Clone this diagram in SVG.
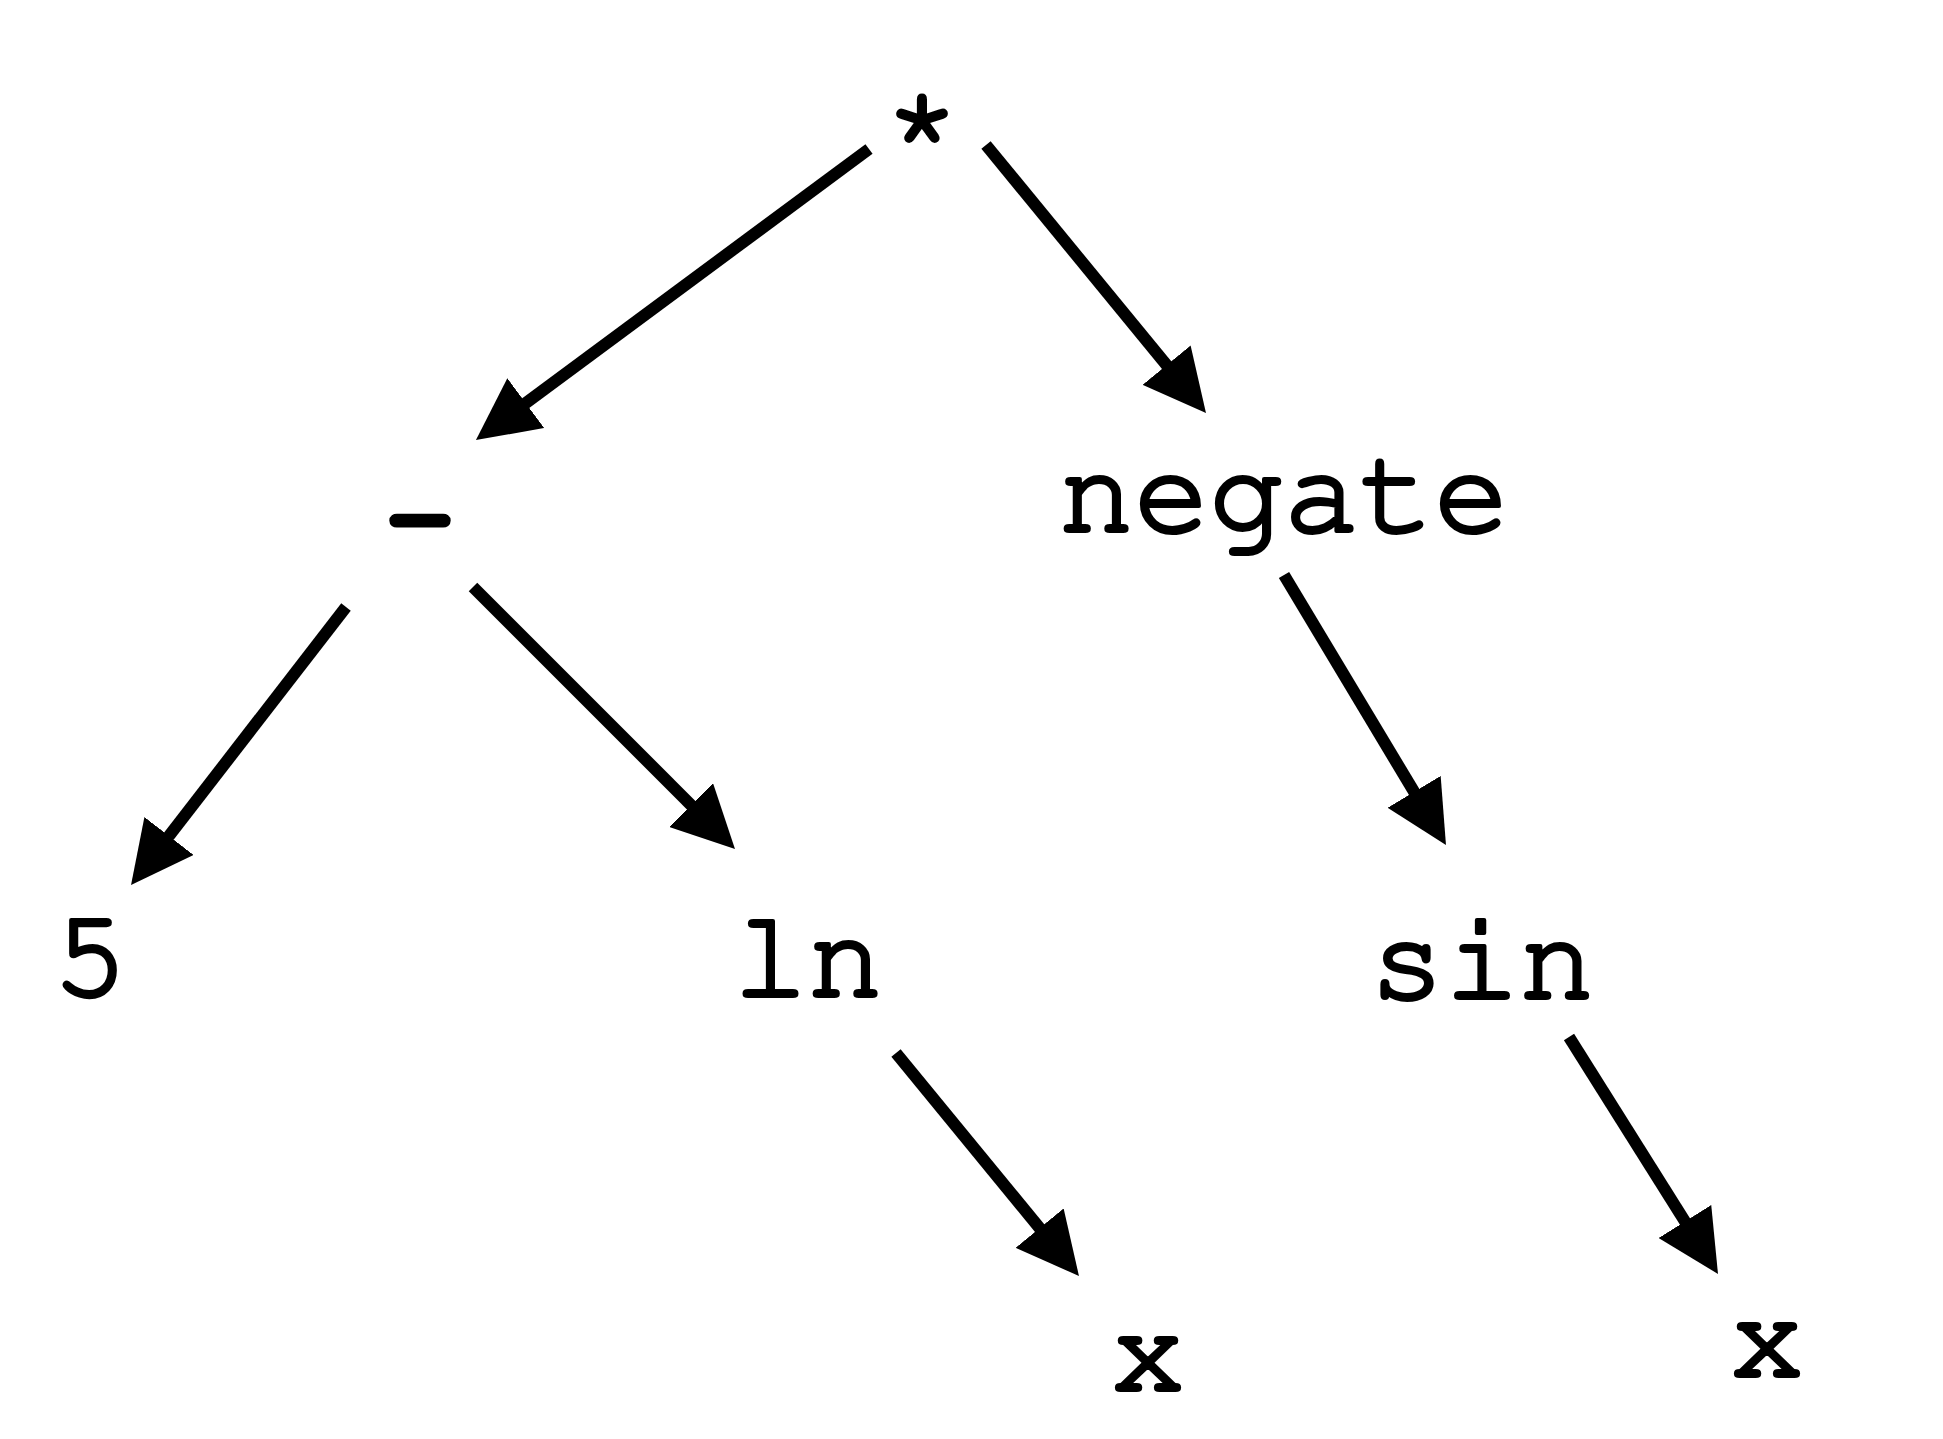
<svg xmlns="http://www.w3.org/2000/svg" width="1943" height="1439" viewBox="0 0 1943 1439">
<style>
.lbl{font-family:"Nimbus Mono PS","FreeMono","Liberation Mono","Courier New",monospace;font-size:125px;fill:#000;stroke:#000;stroke-width:4;stroke-linejoin:round;text-anchor:middle}
.edge{stroke:#000;stroke-width:12;fill:none;marker-end:url(#ah)}
</style>
<defs>
<marker id="ah" viewBox="0 0 62 62" refX="22" refY="31" markerWidth="62" markerHeight="62" markerUnits="userSpaceOnUse" orient="auto">
<path d="M0,0 L62,31 L0,62 z" fill="#000"/>
</marker>
</defs>
<rect width="1943" height="1439" fill="#fff"/>
<g id="connectors">
<line class="edge" x1="869" y1="149" x2="508.1" y2="416.2"/>
<line class="edge" x1="986" y1="145" x2="1180.6" y2="382.1"/>
<line class="edge" x1="346" y1="607" x2="155.5" y2="853.4"/>
<line class="edge" x1="473" y1="587" x2="706.7" y2="820.7"/>
<line class="edge" x1="1284" y1="575" x2="1425.4" y2="810.7"/>
<line class="edge" x1="896" y1="1053" x2="1053.6" y2="1245.1"/>
<line class="edge" x1="1569" y1="1037" x2="1696.7" y2="1240.1"/>
</g>
<g id="n-mul"><text class="lbl" x="922" y="172" style="stroke-width:5">*</text></g>
<g id="n-sub"><text class="lbl" x="420" y="553" style="font-size:115px;stroke-width:9">-</text></g>
<g id="n-negate"><text class="lbl" x="1284" y="531">negate</text></g>
<g id="n-5"><text class="lbl" x="90" y="996">5</text></g>
<g id="n-ln"><text class="lbl" x="808" y="996">ln</text></g>
<g id="n-sin"><text class="lbl" x="1482" y="998">sin</text></g>
<g id="n-x1"><text class="lbl" x="1148" y="1390">x</text></g>
<g id="n-x2"><text class="lbl" x="1767" y="1376">x</text></g>
</svg>
